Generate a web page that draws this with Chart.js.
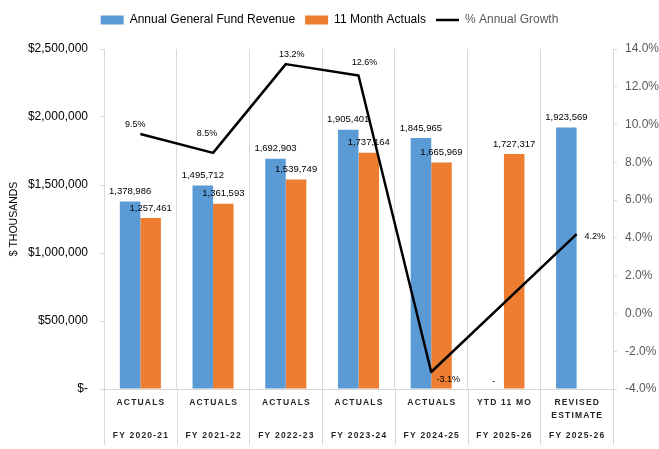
<!DOCTYPE html>
<html><head><meta charset="utf-8">
<script src="https://cdn.jsdelivr.net/npm/chart.js@4"></script>
<style>html,body{margin:0;padding:0;background:#fff;} #wrap{width:659px;height:449px;position:relative;}</style>
</head><body><div id="wrap"><canvas id="c"></canvas></div>
<script>
// ---- data ----
const categories = ['ACTUALS', 'ACTUALS', 'ACTUALS', 'ACTUALS', 'ACTUALS', 'YTD 11 MO', ['REVISED', 'ESTIMATE']];
const fiscalYears = ['FY 2020-21', 'FY 2021-22', 'FY 2022-23', 'FY 2023-24', 'FY 2024-25', 'FY 2025-26', 'FY 2025-26'];
const annualRevenue = [1378986, 1495712, 1692903, 1905401, 1845965, 0, 1923569];
const elevenMonthActuals = [1257461, 1361593, 1539749, 1737164, 1665969, 1727317, null];
const annualGrowth = [9.5, 8.5, 13.2, 12.6, -3.1, null, 4.2];
const leftTicks = [0, 500000, 1000000, 1500000, 2000000, 2500000];
const rightTicks = [-4, -2, 0, 2, 4, 6, 8, 10, 12, 14];

const FONT = "'Liberation Sans', Arial, sans-serif";
const GRID = '#d9d9d9';
// label offsets (px) for growth labels relative to each point
const growthLabelOffsets = [[-5, -9], [-6, -19], [6, -10], [6, -13], [17, 8], null, [18, 2]];

const valueLabels = {
  id: 'valueLabels',
  afterDatasetsDraw(chart) {
    const ctx = chart.ctx;
    ctx.save();
    ctx.fillStyle = '#000';
    ctx.textAlign = 'center';
    ctx.textBaseline = 'middle';
    ctx.font = '9.5px ' + FONT;
    [0, 1].forEach(di => {
      const meta = chart.getDatasetMeta(di);
      const vals = chart.data.datasets[di].data;
      meta.data.forEach((el, i) => {
        const v = vals[i];
        if (v === null || v === undefined) return;
        const txt = v === 0 ? '-' : v.toLocaleString('en-US');
        ctx.fillText(txt, el.x, el.y - (v === 0 ? 8 : 10));
      });
    });
    ctx.font = '9px ' + FONT;
    const lm = chart.getDatasetMeta(2);
    lm.data.forEach((el, i) => {
      const v = annualGrowth[i];
      if (v === null || v === undefined) return;
      const o = growthLabelOffsets[i] || [0, -10];
      ctx.fillText(v.toFixed(1) + '%', el.x + o[0], el.y + o[1]);
    });
    ctx.restore();
  }
};

const xRows = {
  id: 'xRows',
  beforeLayout(chart) {
    const lg = chart.legend;
    if (lg && !lg._patched) {
      const f = lg.fit;
      lg.fit = function () { f.call(this); this.height += 13; };
      lg._patched = true;
    }
  },
  afterDraw(chart) {
    const ctx = chart.ctx, xs = chart.scales.x, area = chart.chartArea;
    const n = categories.length;
    const step = xs.width / n;
    ctx.save();
    ctx.strokeStyle = GRID;
    ctx.lineWidth = 1;
    for (let i = 0; i <= n; i++) {
      const x = Math.round(xs.getPixelForValue(0) - step / 2 + i * step) + 0.5;
      ctx.beginPath();
      ctx.moveTo(x, area.bottom);
      ctx.lineTo(x, 445);
      ctx.stroke();
    }
    ctx.fillStyle = '#262626';
    ctx.font = 'bold 8.5px ' + FONT;
    ctx.textAlign = 'center';
    ctx.textBaseline = 'middle';
    ctx.letterSpacing = '1.2px';
    categories.forEach((c, i) => {
      const x = xs.getPixelForValue(i) + 0.6;
      const lines = Array.isArray(c) ? c : [c];
      lines.forEach((t, j) => ctx.fillText(t, x, area.bottom + 14 + j * 13));
      ctx.fillText(fiscalYears[i], x, area.bottom + 47);
    });
    ctx.restore();
  }
};

new Chart(document.getElementById('c'), {
  type: 'bar',
  data: {
    labels: fiscalYears,
    datasets: [
      { label: 'Annual General Fund Revenue', data: annualRevenue, backgroundColor: '#5B9BD5', yAxisID: 'y', order: 1,
        categoryPercentage: 0.565, barPercentage: 1.0 },
      { label: '11 Month Actuals', data: elevenMonthActuals, backgroundColor: '#ED7D31', yAxisID: 'y', order: 1,
        categoryPercentage: 0.565, barPercentage: 1.0 },
      { type: 'line', label: '% Annual Growth', data: annualGrowth, yAxisID: 'y1', order: 0,
        borderColor: '#000', backgroundColor: '#000', borderWidth: 2.5, pointRadius: 0, tension: 0,
        spanGaps: true, borderJoinStyle: 'round' }
    ]
  },
  options: {
    responsive: true,
    maintainAspectRatio: false,
    animation: false,
    layout: { padding: { top: 4, bottom: 60, left: 0, right: 0 } },
    plugins: {
      tooltip: { enabled: false },
      legend: {
        position: 'top',
        labels: {
          usePointStyle: true, pointStyleWidth: 23, boxHeight: 9, padding: 10,
          font: { size: 12, family: FONT }, color: '#000',
          sort: (a, b) => a.datasetIndex - b.datasetIndex,
          generateLabels(chart) {
            const items = Chart.defaults.plugins.legend.labels.generateLabels(chart);
            items.forEach(it => {
              if (it.datasetIndex < 2) { it.pointStyle = 'rect'; it.lineWidth = 0; it.fontColor = '#000'; }
              else { it.pointStyle = 'line'; it.lineWidth = 2.5; it.strokeStyle = '#000'; it.fontColor = '#595959'; }
            });
            return items;
          }
        }
      }
    },
    scales: {
      x: {
        offset: true,
        ticks: { display: false },
        grid: { display: true, offset: true, color: GRID, drawTicks: false },
        border: { display: true, color: GRID }
      },
      y: {
        position: 'left', min: 0, max: 2500000,
        afterBuildTicks(s) { s.ticks = leftTicks.map(v => ({ value: v })); },
        ticks: { color: '#000', font: { size: 12, family: FONT }, padding: 12,
          callback: v => v === 0 ? '$-' : '$' + Number(v).toLocaleString('en-US') },
        grid: { drawOnChartArea: false, drawTicks: true, tickLength: 4, color: GRID },
        border: { display: true, color: GRID },
        title: { display: true, text: '$ THOUSANDS', color: '#000', font: { size: 10.5, family: FONT }, padding: { top: 8, bottom: 0 } },
        afterFit(s) { s.width = 104; }
      },
      y1: {
        position: 'right', min: -4, max: 14,
        afterBuildTicks(s) { s.ticks = rightTicks.map(v => ({ value: v })); },
        ticks: { color: '#595959', font: { size: 12, family: FONT }, padding: 8,
          callback: v => Number(v).toFixed(1) + '%' },
        grid: { drawOnChartArea: false, drawTicks: true, tickLength: 4, color: GRID },
        border: { display: true, color: GRID },
        afterFit(s) { s.width = 46; }
      }
    }
  },
  plugins: [valueLabels, xRows]
});
</script>
</body></html>
